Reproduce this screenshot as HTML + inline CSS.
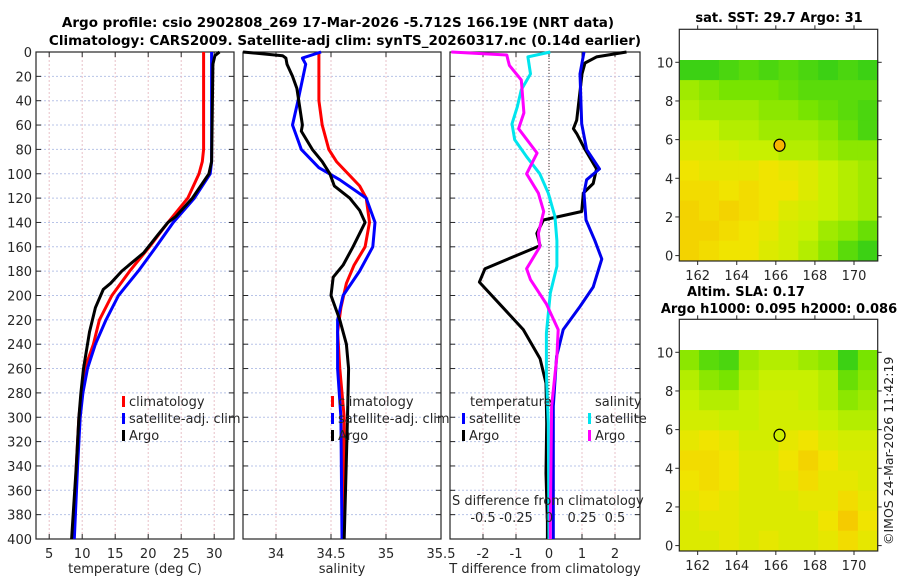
<!DOCTYPE html>
<html><head><meta charset="utf-8"><style>
body{margin:0;background:#fff;}
svg{display:block;font-family:"DejaVu Sans","Liberation Sans",sans-serif;}
</style></head><body>
<svg id="fig" width="900" height="580" viewBox="0 0 900 580" xmlns="http://www.w3.org/2000/svg">
<rect width="900" height="580" fill="#fff"/>
<text x="338" y="27" font-size="13.5" font-weight="bold" text-anchor="middle">Argo profile: csio 2902808_269 17-Mar-2026 -5.712S 166.19E (NRT data)</text>
<text x="345" y="45" font-size="13.5" font-weight="bold" text-anchor="middle">Climatology: CARS2009. Satellite-adj clim: synTS_20260317.nc (0.14d earlier)</text>
<text x="779" y="22" font-size="13" font-weight="bold" text-anchor="middle">sat. SST: 29.7 Argo: 31</text>
<text x="746" y="296" font-size="13" font-weight="bold" text-anchor="middle">Altim. SLA: 0.17</text>
<text x="779" y="313" font-size="13" font-weight="bold" text-anchor="middle">Argo h1000: 0.095 h2000: 0.086</text>
<text transform="translate(893,545) rotate(-90)" font-size="12.5" fill="#222">©IMOS 24-Mar-2026 11:42:19</text>
<g id="layer"></g>
</svg>
<script>
// ---------- data ----------
const depthTicks=[0,20,40,60,80,100,120,140,160,180,200,220,240,260,280,300,320,340,360,380,400];
const tempTicks=[5,10,15,20,25,30];
const salTicks=[34,34.5,35,35.5];
const tdiffTicks=[-2,-1,0,1,2];
const sdiffTicks=[-0.5,-0.25,0,0.25,0.5];
const lonTicks=[162,164,166,168,170];
const latTicks=[0,2,4,6,8,10];

const climTDepth=[0,80,90,100,120,140,160,180,200,220,240,260,280,300,340,400];
const climT=[28.4,28.4,28.2,27.7,26,23,20.2,17.2,14.5,12.6,11.7,10.4,9.9,9.5,9.1,8.7];
const satTDepth=[0,90,100,120,140,160,180,200,220,240,260,280,300,340,400];
const satT=[29.6,29.6,29.4,27,23.8,21.2,18.5,15.5,13.6,12,10.8,10.1,9.7,9.3,8.8];
const argoTDepth=[0,3,10,90,100,120,135,140,150,165,180,190,195,210,230,240,260,280,300,340,400];
const argoT=[30.8,30.1,29.8,29.6,29.2,26.7,24.2,23,21.5,19.3,16,14.3,13.2,12,11.1,10.8,10.2,9.8,9.5,9.1,8.4];

const climSDepth=[0,40,60,80,90,110,120,140,160,175,190,210,230,260,300,400];
const climS=[34.39,34.39,34.42,34.48,34.55,34.76,34.82,34.85,34.81,34.71,34.64,34.59,34.56,34.58,34.62,34.61];
const satSDepth=[0,5,10,40,60,80,95,105,120,140,160,180,200,220,260,300,400];
const satS=[34.41,34.24,34.27,34.2,34.15,34.23,34.39,34.58,34.82,34.9,34.88,34.76,34.61,34.56,34.56,34.59,34.6];
const argoSDepth=[0,3,5,10,20,30,60,65,80,90,100,110,120,130,140,160,175,185,200,220,240,260,300,400];
const argoS=[33.7,34.06,34.09,34.1,34.15,34.19,34.24,34.23,34.33,34.42,34.49,34.53,34.67,34.76,34.81,34.7,34.61,34.52,34.5,34.58,34.64,34.66,34.65,34.62];

const dTArgoDepth=[0,4,9,18,56,63,67,80,96,108,116,131,138,149,159,178,189,228,252,272,305,346,386,400];
const dTArgo=[2.35,1.44,1.09,1.0,0.84,0.74,0.84,1.09,1.44,1.34,1.04,0.99,-0.17,-0.37,-0.27,-1.94,-2.11,-0.78,-0.27,-0.09,-0.07,-0.09,-0.05,-0.05];
const dTSatDepth=[0,18,59,80,96,105,116,138,155,170,193,209,228,250,291,386,400];
const dTSat=[1.06,0.94,0.99,1.14,1.53,1.14,1.06,1.12,1.39,1.6,1.34,0.94,0.43,0.23,0.13,0.13,0.13];
const dSSatDepth=[0,4,18,31,45,59,72,86,100,116,135,155,176,198,231,264,305,400];
const dSSat=[0.01,-0.16,-0.14,-0.21,-0.24,-0.28,-0.26,-0.17,-0.07,-0.005,0.045,0.06,0.06,0.01,-0.02,-0.02,-0.005,0.0];
const dSArgoDepth=[0,2.5,7,11,23,50,63,83,100,116,131,149,160,178,187,207,228,250,291,386,400];
const dSArgo=[-0.74,-0.32,-0.31,-0.3,-0.21,-0.19,-0.23,-0.09,-0.17,-0.08,-0.04,-0.08,-0.07,-0.17,-0.14,-0.02,0.07,0.06,0.02,0.01,0.01];

const sstGrid=[
[0.1,0.1,0.15,0.2,0.15,0.2,0.15,0.1,0.15,0.1],
[0.4,0.35,0.3,0.3,0.3,0.25,0.2,0.2,0.2,0.2],
[0.45,0.4,0.4,0.4,0.35,0.35,0.3,0.25,0.2,0.15],
[0.5,0.5,0.45,0.45,0.4,0.4,0.4,0.35,0.25,0.15],
[0.6,0.6,0.55,0.5,0.5,0.45,0.45,0.4,0.35,0.35],
[0.7,0.65,0.65,0.65,0.7,0.65,0.6,0.5,0.45,0.4],
[0.75,0.75,0.7,0.75,0.7,0.7,0.6,0.5,0.45,0.4],
[0.8,0.75,0.8,0.75,0.7,0.6,0.55,0.5,0.45,0.4],
[0.8,0.8,0.75,0.7,0.65,0.55,0.5,0.4,0.35,0.25],
[0.8,0.75,0.7,0.7,0.6,0.55,0.45,0.35,0.2,0.1]];
const slaGrid=[
[0.35,0.2,0.15,0.4,0.45,0.45,0.4,0.35,0.1,0.3],
[0.45,0.35,0.3,0.45,0.5,0.5,0.5,0.45,0.25,0.35],
[0.5,0.45,0.45,0.5,0.55,0.55,0.5,0.45,0.35,0.4],
[0.55,0.55,0.5,0.5,0.55,0.55,0.55,0.5,0.45,0.45],
[0.65,0.7,0.65,0.55,0.55,0.65,0.7,0.6,0.55,0.55],
[0.75,0.75,0.7,0.6,0.6,0.7,0.8,0.7,0.6,0.6],
[0.7,0.75,0.7,0.6,0.6,0.65,0.75,0.65,0.65,0.6],
[0.65,0.7,0.65,0.6,0.6,0.6,0.65,0.65,0.75,0.65],
[0.6,0.65,0.65,0.6,0.6,0.6,0.6,0.7,0.85,0.7],
[0.6,0.6,0.65,0.6,0.65,0.6,0.6,0.65,0.75,0.65]];
const floatLon=166.19, floatLat=5.71;

// ---------- helpers ----------
const NS="http://www.w3.org/2000/svg";
const layer=document.getElementById('layer');
function mk(tag,attrs,parent){const e=document.createElementNS(NS,tag);for(const k in attrs)e.setAttribute(k,attrs[k]);(parent||layer).appendChild(e);return e;}
function txt(s,x,y,anchor,size,parent){const t=mk('text',{x:x,y:y,'text-anchor':anchor||'middle','font-size':size||13,fill:'#262626'},parent);t.textContent=s;return t;}

const Y0=52,Y1=539;
const yD=d=>Y0+(d/400)*(Y1-Y0);
const P1={x0:36,x1:234,v0:3,v1:33};
const P2={x0:243,x1:441,v0:33.7,v1:35.5};
const P3={x0:450,x1:640,v0:-3,v1:(640-450)/33-3};
const sx=(p,v)=>p.x0+(v-p.v0)/(p.v1-p.v0)*(p.x1-p.x0);
const sxS=v=>sx(P3,v*4);

function panel(p,name,xt,fmt,yLabels){
  const g=mk('g',{});
  
  
  depthTicks.forEach(d=>{
    const l=mk('line',{x1:p.x0,x2:p.x1,y1:yD(d),y2:yD(d),stroke:'#b8c4e8','stroke-width':1,'stroke-dasharray':'2,2'},g);
    
    
    mk('line',{x1:p.x0,x2:p.x0+5,y1:yD(d),y2:yD(d),stroke:'#262626'},g);
    mk('line',{x1:p.x1-5,x2:p.x1,y1:yD(d),y2:yD(d),stroke:'#262626'},g);
    if(yLabels){const t=txt(String(d),p.x0-4,yD(d)+5,'end',13,g);
      
      }
  });
  xt.forEach(v=>{
    const x=sx(p,v);
    const l=mk('line',{x1:x,x2:x,y1:Y0,y2:Y1,stroke:'#e8c0c8','stroke-width':1,'stroke-dasharray':'2,2'},g);
    
    
    mk('line',{x1:x,x2:x,y1:Y1,y2:Y1-5,stroke:'#262626'},g);
    mk('line',{x1:x,x2:x,y1:Y0,y2:Y0+5,stroke:'#262626'},g);
    const t=txt(fmt(v),x,Y1+19,'middle',13,g);
    
    
  });
  const r=mk('rect',{x:p.x0,y:Y0,width:p.x1-p.x0,height:Y1-Y0,fill:'none',stroke:'#262626','stroke-width':1.2},g);
  
  
  return g;
}
function line(g,xf,vals,deps,color,name){
  const pts=vals.map((v,i)=>xf(v).toFixed(1)+','+yD(deps[i]).toFixed(1)).join(' ');
  const pl=mk('polyline',{points:pts,fill:'none',stroke:color,'stroke-width':3,'stroke-linejoin':'round'},g);
  
  
}
function legend(g,x,y,color,label,name){
  mk('rect',{x:x,y:y-10,width:3,height:11,fill:color},g);
  const t=txt(label,x+7,y,'start',13,g);
  
  
}

// panel 1 temperature
const g1=panel(P1,'temperature-panel',tempTicks,v=>String(v),true);
line(g1,v=>sx(P1,v),climT,climTDepth,'#ff0000','temp-climatology-line');
line(g1,v=>sx(P1,v),satT,satTDepth,'#0000ff','temp-satellite-line');
line(g1,v=>sx(P1,v),argoT,argoTDepth,'#000000','temp-argo-line');
legend(g1,122,406,'#ff0000','climatology','legend-climatology');
legend(g1,122,423,'#0000ff','satellite-adj. clim','legend-satellite-adj');
legend(g1,122,440,'#000000','Argo','legend-argo');
const xl1=txt('temperature (deg C)',135,573,'middle',13,g1);



// panel 2 salinity
const g2=panel(P2,'salinity-panel',salTicks,v=>String(v),false);
line(g2,v=>sx(P2,v),climS,climSDepth,'#ff0000','sal-climatology-line');
line(g2,v=>sx(P2,v),satS,satSDepth,'#0000ff','sal-satellite-line');
line(g2,v=>sx(P2,v),argoS,argoSDepth,'#000000','sal-argo-line');
legend(g2,331,406,'#ff0000','climatology','legend-climatology');
legend(g2,331,423,'#0000ff','satellite-adj. clim','legend-satellite-adj');
legend(g2,331,440,'#000000','Argo','legend-argo');
const xl2=txt('salinity',342,573,'middle',13,g2);



// panel 3 differences
const g3=panel(P3,'difference-panel',tdiffTicks,v=>String(v),false);
const zl=mk('line',{x1:sx(P3,0),x2:sx(P3,0),y1:Y0,y2:Y1,stroke:'#333','stroke-width':1,'stroke-dasharray':'1,2'},g3);


line(g3,v=>sx(P3,v),dTArgo,dTArgoDepth,'#000000','tdiff-argo-line');
line(g3,v=>sx(P3,v),dTSat,dTSatDepth,'#0000ee','tdiff-satellite-line');
line(g3,sxS,dSSat,dSSatDepth,'#00e5ee','sdiff-satellite-line');
line(g3,sxS,dSArgo,dSArgoDepth,'#ff00ff','sdiff-argo-line');
const lt=txt('temperature',470,406,'start',13,g3);


legend(g3,462,423,'#0000ff','satellite','legend-temp-satellite');
legend(g3,462,440,'#000000','Argo','legend-temp-argo');
const ls=txt('salinity',595,406,'start',13,g3);


legend(g3,588,423,'#00e5ee','satellite','legend-sal-satellite');
legend(g3,588,440,'#ff00ff','Argo','legend-sal-argo');
const st=txt('S difference from climatology',452,505,'start',13,g3);


sdiffTicks.forEach(v=>{
  const t=txt(String(v),sxS(v),522,'middle',13,g3);
  
  
});
const xl3=txt('T difference from climatology',545,573,'middle',13,g3);



// ---------- maps ----------
function cmap(v){
  const stops=[[0,[30,200,30]],[0.3,[120,228,0]],[0.5,[200,240,0]],[0.7,[240,228,0]],[1,[250,178,0]]];
  for(let i=1;i<stops.length;i++){if(v<=stops[i][0]){const a=stops[i-1],b=stops[i];const t=(v-a[0])/(b[0]-a[0]);
    return 'rgb('+a[1].map((c,k)=>Math.round(c+(b[1][k]-c)*t)).join(',')+')';}}
  return 'rgb(250,178,0)';
}
function map(name,ax,grid,circleFill){
  const g=mk('g',{});
  
  
  const lonX=l=>ax.x0+(l-ax.lon0)*ax.kx;
  const latY=l=>ax.y10+(10-l)*ax.ky;
  const lonMin=ax.lon0, lonMax=(ax.x1-ax.x0)/ax.kx+ax.lon0;
  const latTop=10.12, latBot=-0.27;
  const nr=grid.length,nc=grid[0].length;
  const dl=(lonMax-lonMin)/nc, dt=(latTop-latBot)/nr;
  grid.forEach((row,r)=>row.forEach((v,c)=>{
    const x=lonX(lonMin+c*dl), y=latY(latTop-r*dt);
    const cell=mk('rect',{x:x.toFixed(1),y:y.toFixed(1),width:(dl*ax.kx+0.6).toFixed(1),height:(dt*ax.ky+0.6).toFixed(1),fill:cmap(v)},g);
    
    
  }));
  const fr=mk('rect',{x:ax.x0,y:ax.yt,width:ax.x1-ax.x0,height:ax.yb-ax.yt,fill:'none',stroke:'#262626','stroke-width':1.2},g);
  
  
  lonTicks.forEach(l=>{const x=lonX(l);
    mk('line',{x1:x,x2:x,y1:ax.yb,y2:ax.yb+4,stroke:'#262626'},g);
    mk('line',{x1:x,x2:x,y1:ax.yt,y2:ax.yt-4,stroke:'#262626'},g);
    const t=txt(String(l),x,ax.yb+19,'middle',13,g);
    
    });
  latTicks.forEach(l=>{const y=latY(l);
    mk('line',{x1:ax.x0-4,x2:ax.x0,y1:y,y2:y,stroke:'#262626'},g);
    mk('line',{x1:ax.x1,x2:ax.x1+4,y1:y,y2:y,stroke:'#262626'},g);
    const t=txt(String(l),ax.x0-6,y+5,'end',13,g);
    
    });
  const c=mk('ellipse',{cx:lonX(floatLon),cy:latY(floatLat),rx:5.5,ry:6,fill:circleFill,stroke:'#000','stroke-width':1.2},g);
  
  
}
map('sst-map',{x0:679.3,x1:877.7,lon0:161.06,kx:19.54,y10:62.3,ky:19.33,yt:29.3,yb:261},sstGrid,'#f7b500');
map('sla-map',{x0:679.3,x1:877.7,lon0:161.06,kx:19.54,y10:352.3,ky:19.33,yt:319.3,yb:551},slaGrid,'#ccee00');
</script>
</body></html>
